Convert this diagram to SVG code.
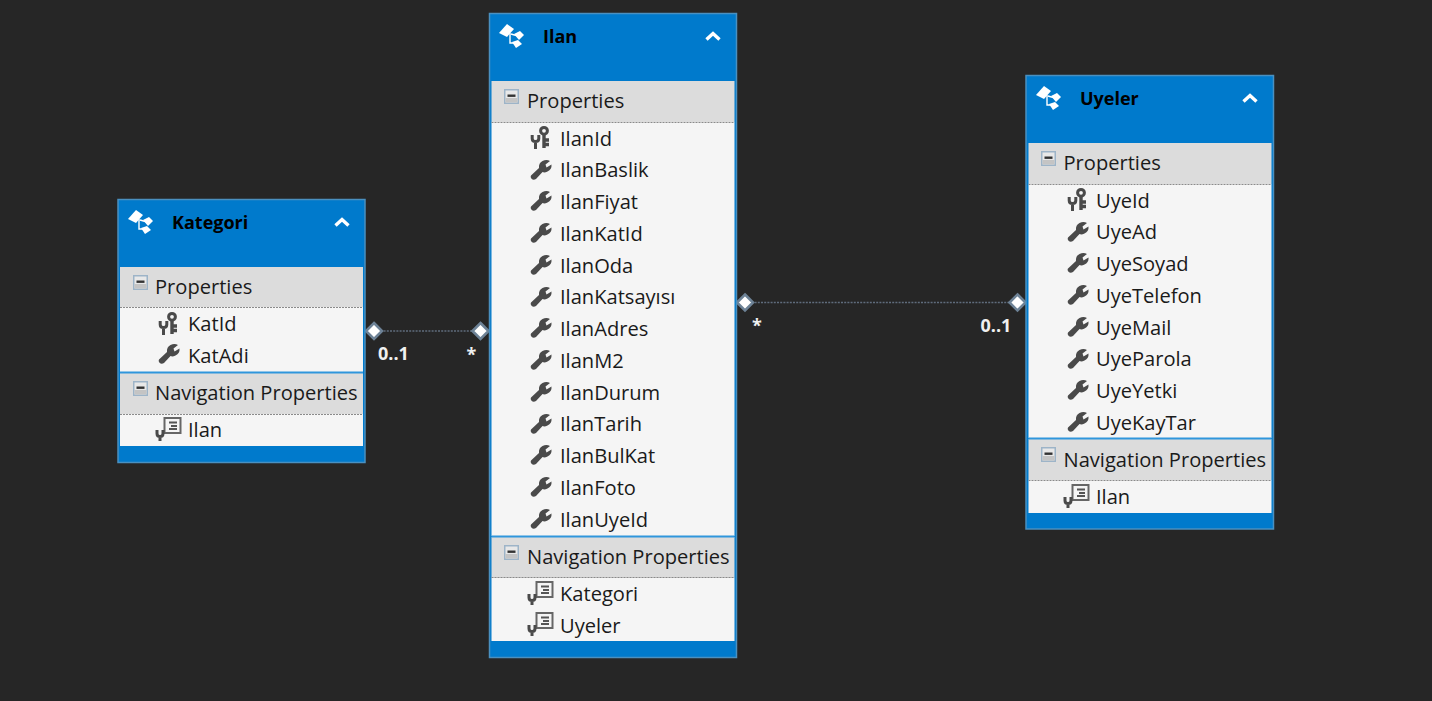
<svg xmlns="http://www.w3.org/2000/svg" xmlns:xlink="http://www.w3.org/1999/xlink" width="1432" height="701" viewBox="0 0 1432 701">
<style>
text{font-family:"Open Sans","Noto Sans","Liberation Sans",sans-serif}
.box{fill:#007acc;stroke:#4a90c0;stroke-width:1.5}
.band{fill:#dcdcdc}
.rows{fill:#f5f5f5}
.sep{stroke:#8a8a8a;stroke-width:1;stroke-dasharray:2 1;fill:none}
.div{stroke:#2f96dc;stroke-width:2;fill:none}
.title{font-size:18px;font-weight:700;fill:#000}
.hd{font-size:20.1px;fill:#1a1a1a}
.it{font-size:20.1px;fill:#1a1a1a}
.conn{stroke:#5f6c7c;stroke-width:1.5;stroke-dasharray:2 1.2;fill:none}
.dia{fill:#fff;stroke:#6d8296;stroke-width:2.6}
.mul{font-size:18px;font-weight:700;fill:#f0f0f0}
</style>
<defs>
<g id="key">
<circle cx="13" cy="4.800" r="3.400" fill="none" stroke="#4a4a4a" stroke-width="3"/>
<path d="M13 8V22M13 14H18M13 18.500H18" fill="none" stroke="#4a4a4a" stroke-width="3.400"/>
<path d="M1.200 9V12.500Q1.200 15.500 4.500 15.500Q7.800 15.500 7.800 12.500V9M4.500 15V23" fill="none" stroke="#4a4a4a" stroke-width="3"/>
</g>
<g id="wrench">
<path d="M0 15.500L8 8Q7.500 3 11.500 1Q15.500 -.8 19 1L14.500 4.500L15.500 7.500L20.500 4.500Q21 9.500 16.500 11.500Q13.500 13 11.500 12L5 19Q2.500 20.500 .5 18.800Q-1 17 0 15.500Z" fill="#4a4a4a"/>
</g>
<g id="nav">
<rect x="8.500" y="1" width="16" height="15" fill="#f5f5f5" stroke="#666" stroke-width="2"/>
<path d="M13 5.500H21M15 9H21M13 12H21" stroke="#555" stroke-width="1.800" fill="none"/>
<path d="M1 13V16.500Q1 19.500 4 19.500Q7 19.500 7 16.500V13M4 19V24" fill="none" stroke="#4a4a4a" stroke-width="3"/>
</g>
<g id="ent">
<path d="M0 9L8 0L15 5L8 13Z" fill="#fff"/>
<path d="M15 10L21 7L25 11L20 16Z" fill="#fff"/>
<path d="M13 18L19 16L23 20L17 24Z" fill="#fff"/>
<path d="M11 9V19H15M12 10L19 12" fill="none" stroke="#fff" stroke-width="1.400"/>
</g>
<path id="chev" d="M1.500 8.500L8 2.500L14.500 8.500" fill="none" stroke="#fff" stroke-width="3.400"/>
<g id="minus">
<rect x=".75" y=".75" width="13.500" height="13.500" fill="#e8e8e8" stroke="#9db4c8" stroke-width="1.500"/>
<rect x="1.500" y="9" width="12" height="4.500" fill="#c4c4c4"/>
<rect x="3.500" y="5.500" width="8" height="2.400" fill="#333"/>
</g>
</defs>
<rect width="1432" height="701" fill="#262626"/>

<g id="connectors">
<path class="conn" d="M374 331H480"/>
<path class="conn" d="M745 302.500H1017"/>
<path class="dia" d="M374 323L382 331L374 339L366 331Z"/>
<path class="dia" d="M480.500 323L488.500 331L480.500 339L472.500 331Z"/>
<path class="dia" d="M745 294.500L753 302.500L745 310.500L737 302.500Z"/>
<path class="dia" d="M1017.500 294.500L1025.500 302.500L1017.500 310.500L1009.500 302.500Z"/>
<text class="mul" x="378" y="360">0..1</text>
<text class="mul" x="466.500" y="361">*</text>
<text class="mul" x="752" y="332">*</text>
<text class="mul" x="980.500" y="331.500">0..1</text>
</g>

<g id="node-kategori">
<rect class="box" x="118" y="199.500" width="247" height="263"/>
<rect class="band" x="120" y="267" width="243" height="40"/>
<rect class="rows" x="120" y="307" width="243" height="65"/>
<rect class="band" x="120" y="373" width="243" height="41"/>
<rect class="rows" x="120" y="414" width="243" height="32"/>
<path class="sep" d="M120 307.500H363M120 414.500H363"/>
<path class="div" d="M120 372.500H363"/>
<use href="#ent" x="128" y="210"/>
<text class="title" x="172" y="229">Kategori</text>
<use href="#chev" x="334" y="217"/>
<use href="#minus" x="133" y="275"/>
<text class="hd" x="155" y="293.500">Properties</text>
<use href="#key" x="159" y="312"/>
<text class="it" x="188" y="331">KatId</text>
<use href="#wrench" x="159" y="344"/>
<text class="it" x="188" y="362.500">KatAdi</text>
<use href="#minus" x="133" y="381"/>
<text class="hd" x="155" y="400">Navigation Properties</text>
<use href="#nav" x="156" y="417"/>
<text class="it" x="188" y="437">Ilan</text>
</g>

<g id="node-ilan">
<rect class="box" x="489.500" y="13.500" width="247" height="644"/>
<rect class="band" x="491.500" y="81" width="243" height="41"/>
<rect class="rows" x="491.500" y="122" width="243" height="414"/>
<rect class="band" x="491.500" y="537" width="243" height="41"/>
<rect class="rows" x="491.500" y="578" width="243" height="63"/>
<path class="sep" d="M491.500 122.500H734.500M491.500 577.500H734.500"/>
<path class="div" d="M491.500 536.500H734.500"/>
<use href="#ent" x="499" y="24"/>
<text class="title" x="543" y="43">Ilan</text>
<use href="#chev" x="705" y="31"/>
<use href="#minus" x="504" y="89"/>
<text class="hd" x="527" y="108">Properties</text>
<use href="#key" x="531" y="126"/>
<text class="it" x="560" y="145.500">IlanId</text>
<use href="#wrench" x="531" y="160"/>
<text class="it" x="560" y="177">IlanBaslik</text>
<use href="#wrench" x="531" y="191"/>
<text class="it" x="560" y="209">IlanFiyat</text>
<use href="#wrench" x="531" y="223"/>
<text class="it" x="560" y="241">IlanKatId</text>
<use href="#wrench" x="531" y="255"/>
<text class="it" x="560" y="272.500">IlanOda</text>
<use href="#wrench" x="531" y="287"/>
<text class="it" x="560" y="304">IlanKatsayısı</text>
<use href="#wrench" x="531" y="318"/>
<text class="it" x="560" y="336">IlanAdres</text>
<use href="#wrench" x="531" y="350"/>
<text class="it" x="560" y="368">IlanM2</text>
<use href="#wrench" x="531" y="382"/>
<text class="it" x="560" y="399.500">IlanDurum</text>
<use href="#wrench" x="531" y="414"/>
<text class="it" x="560" y="431">IlanTarih</text>
<use href="#wrench" x="531" y="445"/>
<text class="it" x="560" y="463">IlanBulKat</text>
<use href="#wrench" x="531" y="477"/>
<text class="it" x="560" y="495">IlanFoto</text>
<use href="#wrench" x="531" y="509"/>
<text class="it" x="560" y="526.500">IlanUyeId</text>
<use href="#minus" x="504" y="545"/>
<text class="hd" x="527" y="563.500">Navigation Properties</text>
<use href="#nav" x="528" y="581"/>
<text class="it" x="560" y="601">Kategori</text>
<use href="#nav" x="528" y="612"/>
<text class="it" x="560" y="633">Uyeler</text>
</g>

<g id="node-uyeler">
<rect class="box" x="1026" y="75.500" width="247.500" height="453.500"/>
<rect class="band" x="1028.500" y="143" width="243" height="41"/>
<rect class="rows" x="1028.500" y="184" width="243" height="254"/>
<rect class="band" x="1028.500" y="439" width="243" height="41"/>
<rect class="rows" x="1028.500" y="480" width="243" height="33"/>
<path class="sep" d="M1028.500 184.500H1271.500M1028.500 480.500H1271.500"/>
<path class="div" d="M1028.500 438.500H1271.500"/>
<use href="#ent" x="1036" y="86"/>
<text class="title" x="1080" y="105">Uyeler</text>
<use href="#chev" x="1242" y="93"/>
<use href="#minus" x="1041" y="151"/>
<text class="hd" x="1063.500" y="170">Properties</text>
<use href="#key" x="1068" y="188"/>
<text class="it" x="1096" y="207.500">UyeId</text>
<use href="#wrench" x="1068" y="222"/>
<text class="it" x="1096" y="239">UyeAd</text>
<use href="#wrench" x="1068" y="253"/>
<text class="it" x="1096" y="271">UyeSoyad</text>
<use href="#wrench" x="1068" y="285"/>
<text class="it" x="1096" y="303">UyeTelefon</text>
<use href="#wrench" x="1068" y="317"/>
<text class="it" x="1096" y="334.500">UyeMail</text>
<use href="#wrench" x="1068" y="349"/>
<text class="it" x="1096" y="366">UyeParola</text>
<use href="#wrench" x="1068" y="380"/>
<text class="it" x="1096" y="398">UyeYetki</text>
<use href="#wrench" x="1068" y="412"/>
<text class="it" x="1096" y="430">UyeKayTar</text>
<use href="#minus" x="1041" y="447"/>
<text class="hd" x="1063.500" y="467">Navigation Properties</text>
<use href="#nav" x="1064" y="484"/>
<text class="it" x="1096" y="504">Ilan</text>
</g>
</svg>
